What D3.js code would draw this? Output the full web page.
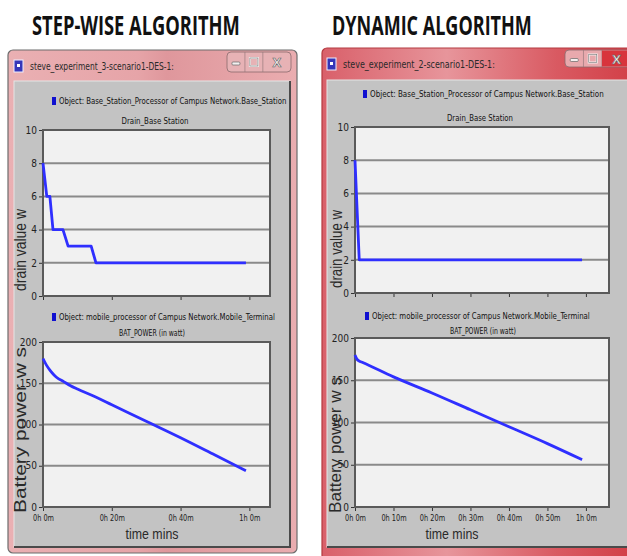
<!DOCTYPE html>
<html><head><meta charset="utf-8">
<script src="https://cdn.jsdelivr.net/npm/d3@7"></script>
<style>body{margin:0;background:#fff}</style>
</head><body>
<svg id="c" width="627" height="556"></svg>
<script>
// ---- text ----
const headings = ["STEP-WISE ALGORITHM", "DYNAMIC ALGORITHM"];
const windowTitles = ["steve_experiment_3-scenario1-DES-1:", "steve_experiment_2-scenario1-DES-1:"];
const drainLegend = "Object: Base_Station_Processor of Campus Network.Base_Station";
const drainTitle = "Drain_Base Station";
const batteryLegend = "Object: mobile_processor of Campus Network.Mobile_Terminal";
const batteryTitle = "BAT_POWER (in watt)";
const drainAxisLabel = "drain value w";
const batteryAxisLabel = "Battery power w s";
const timeAxisLabel = "time mins";

// ---- ticks ----
const drainTicks = [0, 2, 4, 6, 8, 10];
const batteryTicks = [0, 50, 100, 150, 200];
const stepwiseTimeTicks = [0, 20, 40, 60];
const dynamicTimeTicks = [0, 10, 20, 30, 40, 50, 60];

// ---- series (time in minutes) ----
const stepwiseDrainTime  = [0, 1.1, 2, 2.9, 5.8, 7.3, 14, 15.4, 59];
const stepwiseDrainValue = [8, 6, 6, 4, 4, 3, 3, 2, 2];
const dynamicDrainTime   = [0, 1.1, 59];
const dynamicDrainValue  = [8, 2, 2];

const stepwiseBatteryTime  = [0, 1, 2, 3, 4, 6, 8, 10, 15, 20, 30, 40, 50, 59];
const stepwiseBatteryValue = [180, 172, 166, 161, 157, 152, 147, 143, 134, 124, 104, 84, 63, 44];
const dynamicBatteryTime   = [0, 0.5, 1, 2, 10, 20, 30, 40, 50, 59];
const dynamicBatteryValue  = [180, 175, 173, 171, 154, 135, 115, 95, 75, 56];

const svg = d3.select("#c");
const smallFont = "'DejaVu Sans Condensed','Liberation Sans Narrow','Liberation Sans',sans-serif";
const bigFont = "'Open Sans','Liberation Sans',sans-serif";
const labelFont = "'Liberation Sans','Arial',sans-serif";
const lineColor = "#2f2fff";

const defs = svg.append("defs");
const g1 = defs.append("linearGradient").attr("id", "pinkBar").attr("x1", 0).attr("x2", 1);
g1.append("stop").attr("offset", 0).attr("stop-color", "#eab0b3");
g1.append("stop").attr("offset", 0.45).attr("stop-color", "#e6a4a8");
g1.append("stop").attr("offset", 0.55).attr("stop-color", "#df979c");
g1.append("stop").attr("offset", 1).attr("stop-color", "#eaadb0");
const g2 = defs.append("linearGradient").attr("id", "redBar").attr("x1", 0).attr("x2", 1);
g2.append("stop").attr("offset", 0).attr("stop-color", "#d9606a");
g2.append("stop").attr("offset", 0.4).attr("stop-color", "#e7959b");
g2.append("stop").attr("offset", 0.75).attr("stop-color", "#d95a62");
g2.append("stop").attr("offset", 1).attr("stop-color", "#d23f47");

const fmtTime = m => `${Math.floor(m / 60)}h ${m % 60}m`;

// Text squeezed horizontally to a given width (condensed look of the original fonts)
function fitText(parent, o) {
  const t = parent.append("text").attr("x", 0).attr("y", 0)
    .attr("text-anchor", o.anchor || "start")
    .style("font-family", o.font).style("font-size", o.size + "px")
    .style("font-weight", o.weight || 400).style("fill", o.fill || "#222")
    .text(o.text);
  const natural = t.node().getComputedTextLength();
  const k = o.len / natural;
  t.attr("transform", `translate(${o.x},${o.y})${o.rotate ? " rotate(-90)" : ""} scale(${k},1)`);
  return t;
}

function drawWindow(w) {
  const g = svg.append("g");
  fitText(g, { text: w.heading.text, x: w.heading.x, y: w.heading.y, len: w.heading.len,
    font: bigFont, size: 27, weight: 700, fill: "#111" });

  // window frame
  g.append("rect").attr("x", w.frame.x).attr("y", w.frame.y).attr("width", w.frame.w).attr("height", w.frame.h)
    .attr("rx", 5).attr("fill", w.frame.fill).attr("stroke", w.frame.stroke).attr("stroke-width", 1.2);
  // title icon
  g.append("rect").attr("x", w.icon.x).attr("y", w.icon.y).attr("width", 9).attr("height", 12)
    .attr("fill", "#3535b8").attr("stroke", "#eef").attr("stroke-width", 1);
  g.append("rect").attr("x", w.icon.x + 3).attr("y", w.icon.y + 4).attr("width", 3).attr("height", 3).attr("fill", "#fff");
  fitText(g, { text: w.title.text, x: w.title.x, y: w.title.y, len: w.title.len,
    font: smallFont, size: 10, fill: "#2a2a2a" });
  // caption buttons
  const b = w.buttons;
  g.append("rect").attr("x", b.x).attr("y", b.y).attr("width", b.w).attr("height", b.h).attr("rx", 4)
    .attr("fill", b.fill).attr("stroke", "#8a6a6c").attr("stroke-width", 0.8);
  const bw = b.w * 0.28;
  g.append("line").attr("x1", b.x + bw).attr("x2", b.x + bw).attr("y1", b.y).attr("y2", b.y + b.h).attr("stroke", "#9a7a7c").attr("stroke-width", 0.7);
  g.append("line").attr("x1", b.x + 2 * bw).attr("x2", b.x + 2 * bw).attr("y1", b.y).attr("y2", b.y + b.h).attr("stroke", "#9a7a7c").attr("stroke-width", 0.7);
  if (b.closeFill) {
    g.append("rect").attr("x", b.x + 2 * bw).attr("y", b.y + 0.5).attr("width", b.w - 2 * bw).attr("height", b.h - 1).attr("fill", b.closeFill);
  }
  const cy = b.y + b.h / 2;
  g.append("rect").attr("x", b.x + bw / 2 - 4).attr("y", cy).attr("width", 8).attr("height", 3).attr("rx", 1).attr("fill", "#f4f0f0").attr("stroke", "#666").attr("stroke-width", 0.7);
  g.append("rect").attr("x", b.x + 1.5 * bw - 4).attr("y", cy - 4).attr("width", 8).attr("height", 8).attr("fill", "none").attr("stroke", "#f4f0f0").attr("stroke-width", 2);
  g.append("rect").attr("x", b.x + 1.5 * bw - 4).attr("y", cy - 4).attr("width", 8).attr("height", 8).attr("fill", "none").attr("stroke", "#777").attr("stroke-width", 0.6);
  g.append("text").attr("x", b.x + 2 * bw + (b.w - 2 * bw) / 2).attr("y", cy + 5).attr("text-anchor", "middle")
    .style("font-family", bigFont).style("font-weight", 700).style("font-size", "13px")
    .style("fill", "#f6f0f0").style("stroke", "#666").style("stroke-width", 0.6).text("X");

  // inner gray panel
  g.append("rect").attr("x", w.panel.x).attr("y", w.panel.y).attr("width", w.panel.w).attr("height", w.panel.h)
    .attr("fill", "#c3c3c3").attr("stroke", "#e6e6e6").attr("stroke-width", 1);
  g.append("path")
    .attr("d", `M${w.panel.x + w.panel.w},${w.panel.y} V${w.panel.y + w.panel.h} H${w.panel.x}`)
    .attr("fill", "none").attr("stroke", "#4a4a4a").attr("stroke-width", 2);

  w.charts.forEach(c => drawChart(g, c));
}

function drawChart(g, c) {
  const x = d3.scaleLinear().domain([0, 66]).range([c.x0, c.x1]);
  const y = d3.scaleLinear().domain([0, c.yMax]).range([c.y0, c.y1]);

  // legend and chart caption
  g.append("rect").attr("x", c.legend.x).attr("y", c.legend.y - 7).attr("width", 4).attr("height", 8).attr("fill", "#1010d0");
  fitText(g, { text: c.legend.text, x: c.legend.x + 7, y: c.legend.y, len: c.legend.len, font: smallFont, size: 9, fill: "#111" });
  fitText(g, { text: c.sub.text, x: c.sub.x, y: c.sub.y, len: c.sub.len, font: smallFont, size: 9, fill: "#111", anchor: "middle" });

  // plot area and grid
  g.append("rect").attr("x", c.x0).attr("y", c.y1).attr("width", c.x1 - c.x0).attr("height", c.y0 - c.y1).attr("fill", "#f1f1f1");
  g.append("g").selectAll("line").data(c.yTicks.filter(t => t > 0 && t < c.yMax)).join("line")
    .attr("x1", c.x0).attr("x2", c.x1).attr("y1", d => y(d)).attr("y2", d => y(d))
    .attr("stroke", "#8a8a8a").attr("stroke-width", 2);

  // y axis
  const ya = g.append("g").attr("transform", `translate(${c.x0},0)`)
    .call(d3.axisLeft(y).tickValues(c.yTicks).tickSize(4).tickPadding(2));
  ya.select(".domain").remove();
  ya.selectAll(".tick line").attr("stroke", "#333");
  ya.selectAll(".tick text").style("font-family", smallFont).style("font-size", "10px").style("fill", "#222");

  // x axis (ticks; labels only on lower chart)
  const xa = g.append("g").attr("transform", `translate(0,${c.y0})`)
    .call(d3.axisBottom(x).tickValues(c.xTicks).tickSize(4).tickPadding(3).tickFormat(c.showTime ? fmtTime : ""));
  xa.select(".domain").remove();
  xa.selectAll(".tick line").attr("stroke", "#333");
  if (c.showTime) {
    xa.selectAll(".tick text").style("font-family", smallFont).style("font-size", "9.5px").style("fill", "#222")
      .attr("textLength", d => fmtTime(d).length * 4.2).attr("lengthAdjust", "spacingAndGlyphs");
  }

  // plot border
  g.append("rect").attr("x", c.x0).attr("y", c.y1).attr("width", c.x1 - c.x0).attr("height", c.y0 - c.y1)
    .attr("fill", "none").attr("stroke", "#5a5a5a").attr("stroke-width", 2);

  // series
  const pts = c.time.map((t, i) => [t, c.values[i]]);
  g.append("path").datum(pts)
    .attr("d", d3.line().x(d => x(d[0])).y(d => y(d[1])).curve(c.curve))
    .attr("fill", "none").attr("stroke", lineColor).attr("stroke-width", 2.8).attr("stroke-linejoin", "round");

  // axis titles
  fitText(g, { text: c.yLabel.text, x: c.yLabel.x, y: c.yLabel.cy, len: c.yLabel.len, font: labelFont, size: 17,
    fill: "#2a2a2a", anchor: "middle", rotate: true });
  if (c.showTime) {
    fitText(g, { text: timeAxisLabel, x: c.timeLabel.x, y: c.timeLabel.y, len: c.timeLabel.len, font: labelFont, size: 15,
      fill: "#2a2a2a", anchor: "middle" });
  }
}

drawWindow({
  heading: { text: headings[0], x: 32, y: 35, len: 208 },
  frame: { x: 8, y: 50, w: 289, h: 503, fill: "url(#pinkBar)", stroke: "#6d6d6d" },
  icon: { x: 14, y: 60 },
  title: { text: windowTitles[0], x: 30, y: 70, len: 144 },
  buttons: { x: 227, y: 52, w: 64, h: 20, fill: "#e7b2b5" },
  panel: { x: 14, y: 81, w: 276, h: 466 },
  charts: [
    { x0: 43, x1: 270, y0: 296, y1: 130, yMax: 10, yTicks: drainTicks, xTicks: stepwiseTimeTicks, showTime: false,
      time: stepwiseDrainTime, values: stepwiseDrainValue, curve: d3.curveLinear,
      legend: { text: drainLegend, x: 52, y: 104, len: 228 },
      sub: { text: drainTitle, x: 155, y: 124, len: 67 },
      yLabel: { text: drainAxisLabel, x: 26, cy: 250, len: 82 } },
    { x0: 43, x1: 270, y0: 507, y1: 342, yMax: 200, yTicks: batteryTicks, xTicks: stepwiseTimeTicks, showTime: true,
      time: stepwiseBatteryTime, values: stepwiseBatteryValue, curve: d3.curveMonotoneX,
      legend: { text: batteryLegend, x: 52, y: 320, len: 216 },
      sub: { text: batteryTitle, x: 152, y: 336, len: 66 },
      yLabel: { text: batteryAxisLabel, x: 26, cy: 430, len: 166 },
      timeLabel: { x: 152, y: 539, len: 53 } }
  ]
});

drawWindow({
  heading: { text: headings[1], x: 332, y: 35, len: 200 },
  frame: { x: 322, y: 48, w: 312, h: 512, fill: "url(#redBar)", stroke: "#b43a40" },
  icon: { x: 327, y: 58 },
  title: { text: windowTitles[1], x: 343, y: 68, len: 152 },
  buttons: { x: 565, y: 50, w: 66, h: 17, fill: "#e8a9ad", closeFill: "#d8343c" },
  panel: { x: 327, y: 80, w: 302, h: 467 },
  charts: [
    { x0: 355, x1: 609, y0: 293, y1: 127, yMax: 10, yTicks: drainTicks, xTicks: dynamicTimeTicks, showTime: false,
      time: dynamicDrainTime, values: dynamicDrainValue, curve: d3.curveLinear,
      legend: { text: drainLegend, x: 363, y: 97, len: 234 },
      sub: { text: drainTitle, x: 480, y: 121, len: 66 },
      yLabel: { text: drainAxisLabel, x: 342, cy: 249, len: 78 } },
    { x0: 355, x1: 609, y0: 507, y1: 338, yMax: 200, yTicks: batteryTicks, xTicks: dynamicTimeTicks, showTime: true,
      time: dynamicBatteryTime, values: dynamicBatteryValue, curve: d3.curveMonotoneX,
      legend: { text: batteryLegend, x: 365, y: 319, len: 218 },
      sub: { text: batteryTitle, x: 483, y: 334, len: 66 },
      yLabel: { text: batteryAxisLabel, x: 341, cy: 445, len: 136 },
      timeLabel: { x: 452, y: 539, len: 53 } }
  ]
});
</script>
</body></html>
